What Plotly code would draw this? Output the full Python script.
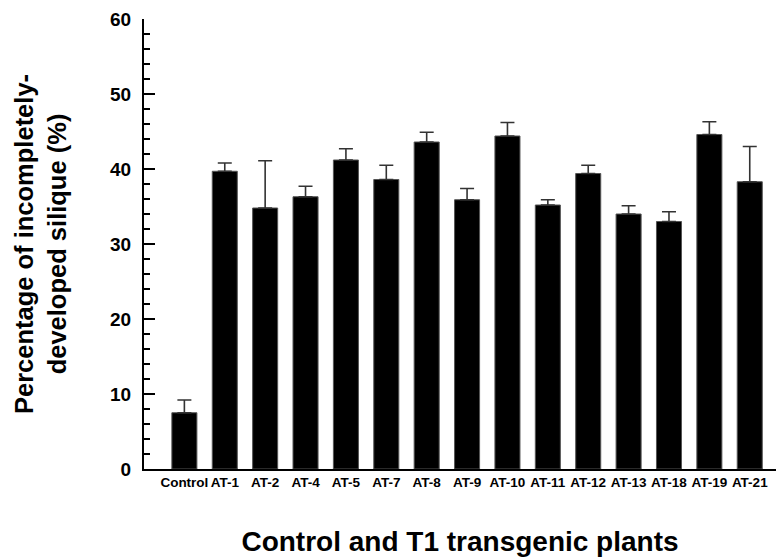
import plotly.graph_objects as go

categories = ["Control", "AT-1", "AT-2", "AT-4", "AT-5", "AT-7", "AT-8", "AT-9",
              "AT-10", "AT-11", "AT-12", "AT-13", "AT-18", "AT-19", "AT-21"]
values = [7.5, 39.7, 34.8, 36.3, 41.2, 38.6, 43.6, 35.9, 44.4, 35.2, 39.4, 34.0, 33.0, 44.6, 38.3]
errors = [1.7, 1.1, 6.3, 1.4, 1.5, 1.9, 1.3, 1.5, 1.8, 0.7, 1.1, 1.1, 1.3, 1.7, 4.7]
y_ticks = [0, 10, 20, 30, 40, 50, 60]

font_family = "Liberation Sans, Arial, sans-serif"

fig = go.Figure()
fig.add_trace(go.Bar(
    x=list(range(len(categories))),
    y=values,
    width=0.62,
    marker=dict(color="#000000", line=dict(color="#555555", width=1)),
    error_y=dict(type="data", array=errors, arrayminus=[0] * len(errors),
                 symmetric=False, color="#333333", thickness=1.6, width=7),
))

fig.update_layout(
    width=782, height=559,
    margin=dict(l=144, r=6, t=19, b=90),
    plot_bgcolor="white", paper_bgcolor="white",
    showlegend=False,
    font=dict(family=font_family, color="#000000"),
)

fig.update_xaxes(
    tickmode="array",
    tickvals=list(range(len(categories))),
    ticktext=["<b>%s</b>" % c for c in categories],
    tickfont=dict(size=13.5, family=font_family),
    tickangle=0,
    range=[-1.0, 14.65],
    showline=True, linecolor="#000000", linewidth=2,
    ticks="", showgrid=False, zeroline=False,
    title=dict(text="<b>Control and T1 transgenic plants</b>",
               font=dict(size=28, family=font_family), standoff=42),
)

fig.update_yaxes(
    range=[0, 60],
    tickmode="array", tickvals=y_ticks,
    ticktext=["<b>%d</b>" % t for t in y_ticks],
    tickfont=dict(size=19, family=font_family),
    ticks="inside", ticklen=11, tickwidth=2, tickcolor="#000000",
    minor=dict(dtick=2, ticks="inside", ticklen=6, tickwidth=2, tickcolor="#000000"),
    showline=True, linecolor="#000000", linewidth=2,
    showgrid=False, zeroline=False,
    ticklabelstandoff=7,
    title=dict(text="<b>Percentage of incompletely-<br>developed silique (%)</b>",
               font=dict(size=25.5, family=font_family), standoff=36),
)

fig.write_html("out.html")
